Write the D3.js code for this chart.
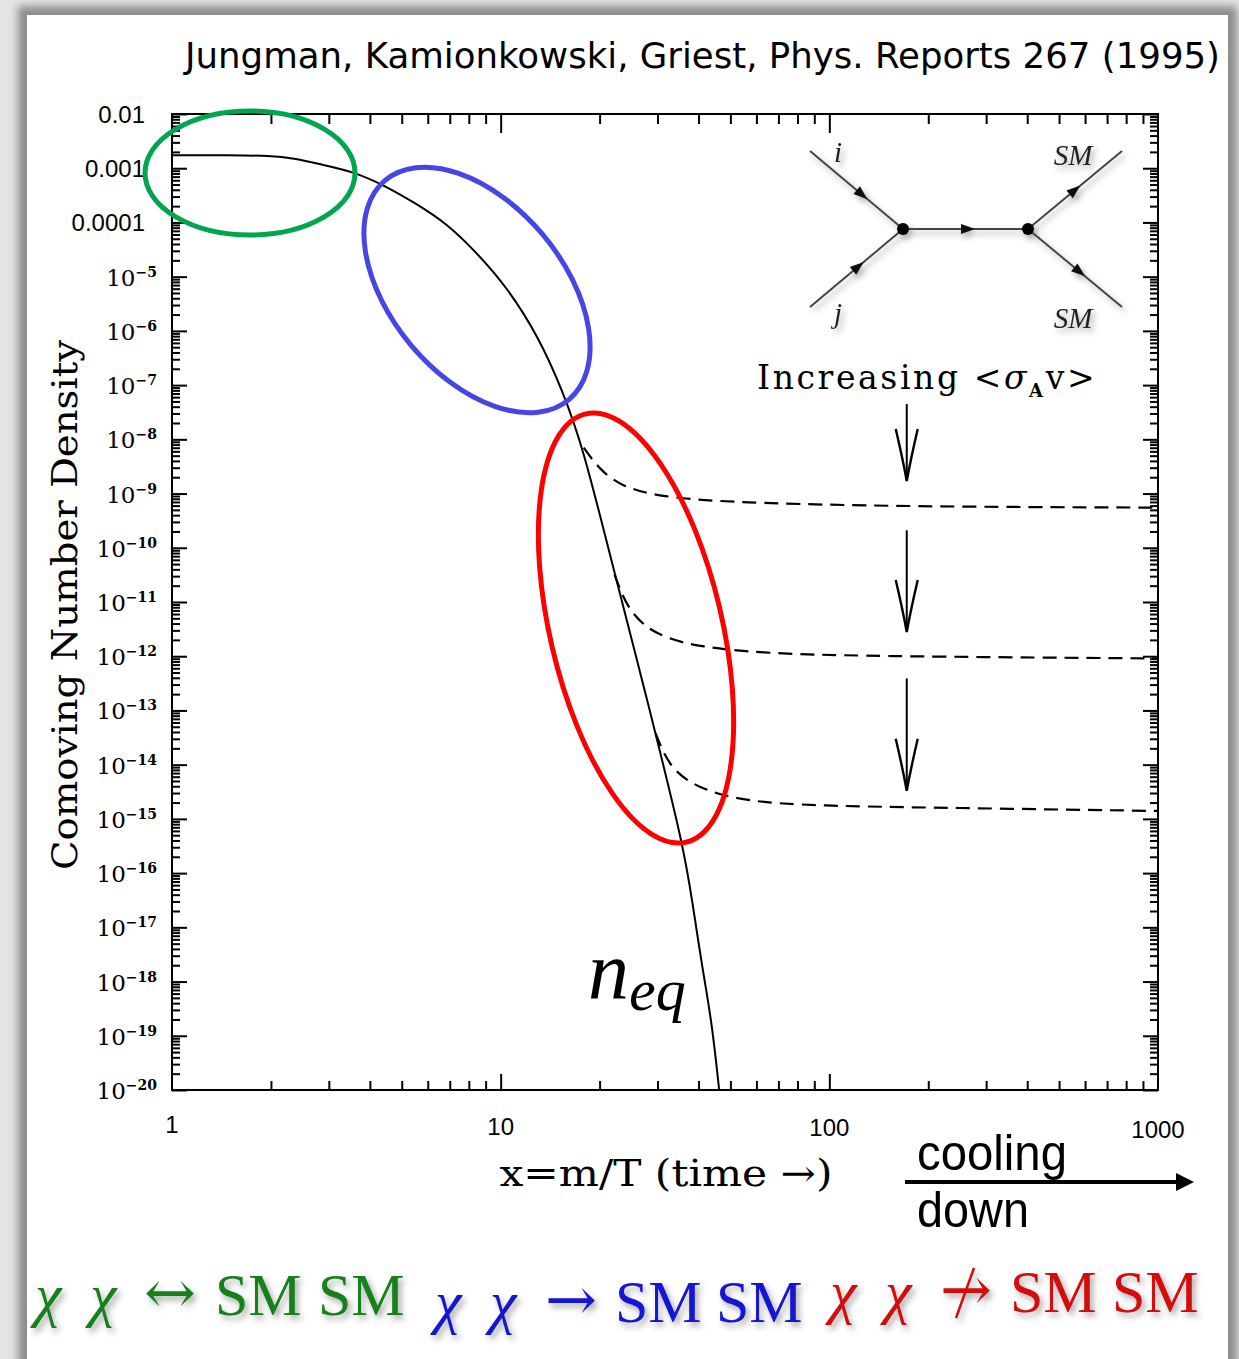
<!DOCTYPE html>
<html>
<head>
<meta charset="utf-8">
<script src="https://cdn.jsdelivr.net/npm/d3@7"></script>
<style>
  body { margin: 0; background: #fff; }
  svg { display: block; }
</style>
</head>
<body>
<svg id="chart" width="1239" height="1359"></svg>
<script>
// ---- data ----
var xTickValues = [1, 10, 100, 1000];
var xTickLabels = ["1", "10", "100", "1000"];
var yTickExponents = [-2, -3, -4, -5, -6, -7, -8, -9, -10, -11, -12, -13, -14, -15, -16, -17, -18, -19, -20];
var yTickPlain = ["0.01", "0.001", "0.0001"];

// equilibrium density n_eq (solid)
var eqX = [1, 1.5, 2.0, 2.33, 2.88, 3.55, 4.38, 5.55, 6.85, 8.22, 10.4, 13.1, 15.4, 17.8, 21.7, 26.1, 30.2, 36.0, 38.3, 41.1, 43.8, 46.3];
var eqY = [1.74e-3, 1.74e-3, 1.70e-3, 1.55e-3, 1.15e-3, 8.7e-4, 5.0e-4, 2.2e-4, 9.5e-5, 3.3e-5, 6.8e-6, 7.4e-7, 8.1e-8, 7.2e-9, 5.9e-11, 7.8e-13, 2.3e-14, 3.0e-16, 3.0e-17, 1.7e-18, 2.0e-19, 9.1e-21];

// freeze-out curves (dashed), increasing <sigma v>
var fo1X = [17.9, 20.0, 23.3, 30.4, 50.7, 167, 1000];
var fo1Y = [7.0e-9, 2.75e-9, 1.35e-9, 8.7e-10, 6.8e-10, 5.75e-10, 5.5e-10];
var fo2X = [22.2, 24.2, 27.4, 32.2, 40.3, 60.4, 123, 1000];
var fo2Y = [3.2e-11, 8.1e-12, 3.5e-12, 2.1e-12, 1.5e-12, 1.15e-12, 1.0e-12, 9.1e-13];
var fo3X = [29.6, 32.6, 39.7, 54.8, 91.9, 225, 1000];
var fo3Y = [3.8e-14, 8.7e-15, 3.7e-15, 2.1e-15, 1.74e-15, 1.6e-15, 1.4e-15];

// "increasing" arrows: x, y start, y end
var arrowX = 172;
var arrowY0 = [4.5e-8, 2.1e-10, 3.9e-13];
var arrowY1 = [1.7e-9, 2.8e-12, 3.3e-15];

var svg = d3.select("#chart");
var defs = svg.append("defs");

defs.append("filter").attr("id", "blur").attr("x", "-5%").attr("y", "-5%").attr("width", "110%").attr("height", "110%")
  .append("feGaussianBlur").attr("stdDeviation", 4);
var sh = defs.append("filter").attr("id", "shadow").attr("x", "-20%").attr("y", "-20%").attr("width", "140%").attr("height", "160%");
sh.append("feDropShadow").attr("dx", 3).attr("dy", 4).attr("stdDeviation", 3).attr("flood-color", "#000").attr("flood-opacity", 0.35);

// frame around the slide
svg.append("rect").attr("width", 1239).attr("height", 1359).attr("fill", "#e4e4e4");
svg.append("rect").attr("x", 18).attr("y", 6).attr("width", 1219).attr("height", 1400).attr("fill", "#8c8c8c").attr("filter", "url(#blur)");
svg.append("rect").attr("x", 27).attr("y", 15).attr("width", 1201).attr("height", 1400).attr("fill", "#fff");

var L = 172, R = 1158, T = 114, B = 1090;
var x = d3.scaleLog().domain([1, 1000]).range([L, R]);
var y = d3.scaleLog().domain([1e-20, 1e-2]).range([B, T]);

defs.append("clipPath").attr("id", "plot").append("rect")
  .attr("x", L).attr("y", T).attr("width", R - L).attr("height", B - T);

// title
svg.append("text").attr("x", 1220).attr("y", 68).attr("text-anchor", "end")
  .attr("font-family", "DejaVu Sans").attr("font-size", 36).attr("textLength", 1035).attr("lengthAdjust", "spacingAndGlyphs")
  .text("Jungman, Kamionkowski, Griest, Phys. Reports 267 (1995)");

// ---- ticks ----
var xMinor = [], yMinor = [];
[1, 10, 100].forEach(function (d) { for (var k = 2; k <= 9; k++) xMinor.push(k * d); });
for (var e = -20; e < -2; e++) { for (var k = 2; k <= 9; k++) yMinor.push(k * Math.pow(10, e)); }
var yMajor = yTickExponents.map(function (e) { return Math.pow(10, e); });

function ticks(axis, tr, vals, size) {
  svg.append("g").attr("transform", tr)
    .call(axis.tickValues(vals).tickSize(size).tickFormat(""))
    .call(function (g) { g.select(".domain").remove(); g.selectAll("line").attr("stroke-width", 2); });
}
ticks(d3.axisBottom(x), "translate(0," + B + ")", xMinor, -9);
ticks(d3.axisBottom(x), "translate(0," + B + ")", [10, 100], -16);
ticks(d3.axisTop(x), "translate(0," + T + ")", xMinor, -10);
ticks(d3.axisTop(x), "translate(0," + T + ")", [10, 100], -19);
ticks(d3.axisLeft(y), "translate(" + L + ",0)", yMinor, -8);
ticks(d3.axisLeft(y), "translate(" + L + ",0)", yMajor, -15);
ticks(d3.axisRight(y), "translate(" + R + ",0)", yMinor, -8);
ticks(d3.axisRight(y), "translate(" + R + ",0)", yMajor, -15);

svg.append("rect").attr("x", L).attr("y", T).attr("width", R - L).attr("height", B - T)
  .attr("fill", "none").attr("stroke", "#000").attr("stroke-width", 2);

// x tick labels
svg.append("g").selectAll("text").data(xTickValues).join("text")
  .attr("x", function (d) { return x(d); })
  .attr("y", function (d, i) { return 1133 + i * 1.5; })
  .attr("text-anchor", "middle")
  .attr("font-family", "Liberation Sans Narrow, Liberation Sans").attr("font-size", 24)
  .text(function (d, i) { return xTickLabels[i]; });

// y tick labels
var yl = svg.append("g").selectAll("text").data(yTickExponents).join("text")
  .attr("y", function (d) { return y(Math.pow(10, d)) + 9; })
  .attr("text-anchor", "end");
yl.filter(function (d, i) { return i < 3; })
  .attr("x", 145).attr("font-family", "Liberation Sans").attr("font-size", 24)
  .text(function (d, i) { return yTickPlain[i]; });
yl.filter(function (d, i) { return i >= 3; })
  .attr("x", 157).attr("font-family", "DejaVu Serif").attr("font-size", 23)
  .each(function (d) {
    var t = d3.select(this);
    t.append("tspan").text("10");
    t.append("tspan").attr("dy", -9).attr("font-size", 14).attr("font-weight", "bold").text("\u2212" + (-d));
  });

// axis titles
svg.append("text").attr("transform", "translate(77,605) rotate(-90)").attr("text-anchor", "middle")
  .attr("font-family", "DejaVu Serif").attr("font-size", 36).attr("textLength", 530).attr("lengthAdjust", "spacingAndGlyphs")
  .text("Comoving Number Density");
svg.append("text").attr("x", 666).attr("y", 1186).attr("text-anchor", "middle")
  .attr("font-family", "DejaVu Serif").attr("font-size", 37).attr("textLength", 333).attr("lengthAdjust", "spacingAndGlyphs")
  .text("x=m/T (time \u2192)");

// ---- curves ----
var line = d3.line().x(function (d) { return x(d[0]); }).y(function (d) { return y(d[1]); }).curve(d3.curveBasis);
var plot = svg.append("g").attr("clip-path", "url(#plot)");
plot.append("path").attr("d", line(d3.zip(eqX, eqY)))
  .attr("fill", "none").attr("stroke", "#000").attr("stroke-width", 2);
[[fo1X, fo1Y], [fo2X, fo2Y], [fo3X, fo3Y]].forEach(function (c) {
  plot.append("path").attr("d", line(d3.zip(c[0], c[1])))
    .attr("fill", "none").attr("stroke", "#000").attr("stroke-width", 2.2).attr("stroke-dasharray", "14,8");
});

// increasing arrows
arrowY0.forEach(function (v, i) {
  var ax = x(arrowX), y0 = y(v), y1 = y(arrowY1[i]);
  var g = svg.append("g").attr("fill", "none").attr("stroke", "#000").attr("stroke-width", 2);
  g.append("line").attr("x1", ax).attr("x2", ax).attr("y1", y0).attr("y2", y1);
  g.append("path").attr("d", "M" + (ax - 11) + "," + (y1 - 52) + " Q" + (ax - 4) + "," + (y1 - 22) + " " + ax + "," + y1 +
    " Q" + (ax + 4) + "," + (y1 - 22) + " " + (ax + 11) + "," + (y1 - 52)).attr("stroke-width", 2.4);
});

svg.append("text").attr("x", 757).attr("y", 389)
  .attr("font-family", "DejaVu Serif").attr("font-size", 33).attr("letter-spacing", 2.6)
  .call(function (t) {
    t.append("tspan").text("Increasing <");
    t.append("tspan").attr("font-style", "italic").text("\u03c3");
    t.append("tspan").attr("dy", 8).attr("font-size", 18).attr("font-weight", "bold").text("A");
    t.append("tspan").attr("dy", -8).text("v>");
  });

// n_eq label
svg.append("text").attr("x", 588).attr("y", 998)
  .attr("font-family", "Liberation Serif").attr("font-style", "italic").attr("font-size", 82)
  .call(function (t) {
    t.append("tspan").text("n");
    t.append("tspan").attr("dy", 12).attr("font-size", 60).text("eq");
  });

// ---- Feynman diagram inset ----
var fd = svg.append("g").attr("filter", "url(#shadow)");
var vL = [903, 229], vR = [1028, 229];
var legs = [
  { a: [810, 151], b: vL, t: 0.56 },
  { a: [810, 307], b: vL, t: 0.52 },
  { a: vL, b: vR, t: 0.52 },
  { a: vR, b: [1122, 151], t: 0.5 },
  { a: vR, b: [1122, 307], t: 0.55 }
];
legs.forEach(function (l) {
  fd.append("line").attr("x1", l.a[0]).attr("y1", l.a[1]).attr("x2", l.b[0]).attr("y2", l.b[1])
    .attr("stroke", "#444").attr("stroke-width", 2);
  var px = l.a[0] + (l.b[0] - l.a[0]) * l.t, py = l.a[1] + (l.b[1] - l.a[1]) * l.t;
  var ang = Math.atan2(l.b[1] - l.a[1], l.b[0] - l.a[0]) * 180 / Math.PI;
  fd.append("path").attr("d", "M7,0 L-7,-5 L-7,5 Z").attr("fill", "#111")
    .attr("transform", "translate(" + px + "," + py + ") rotate(" + ang + ")");
});
[vL, vR].forEach(function (v) {
  fd.append("circle").attr("cx", v[0]).attr("cy", v[1]).attr("r", 6).attr("fill", "#000");
});
var fl = fd.append("g").attr("font-family", "Liberation Serif").attr("font-style", "italic").attr("font-size", 29).attr("fill", "#222");
fl.append("text").attr("x", 838).attr("y", 162).attr("text-anchor", "middle").text("i");
fl.append("text").attr("x", 838).attr("y", 323).attr("text-anchor", "middle").text("j");
fl.append("text").attr("x", 1073).attr("y", 165).attr("text-anchor", "middle").text("SM");
fl.append("text").attr("x", 1073).attr("y", 328).attr("text-anchor", "middle").text("SM");

// ---- highlight ellipses ----
svg.append("ellipse").attr("cx", 250).attr("cy", 173).attr("rx", 105).attr("ry", 62)
  .attr("fill", "none").attr("stroke", "#00a550").attr("stroke-width", 5);
svg.append("ellipse").attr("transform", "translate(477,290) rotate(50)").attr("rx", 143).attr("ry", 86)
  .attr("fill", "none").attr("stroke", "#4646e6").attr("stroke-width", 5);
svg.append("ellipse").attr("transform", "translate(636,628) rotate(76.8)").attr("rx", 220).attr("ry", 86)
  .attr("fill", "none").attr("stroke", "#ff0000").attr("stroke-width", 5);

// ---- cooling down ----
var cd = svg.append("g").attr("font-family", "Liberation Sans Narrow, Liberation Sans").attr("font-size", 50);
cd.append("text").attr("x", 917).attr("y", 1170).attr("textLength", 150).attr("lengthAdjust", "spacingAndGlyphs").text("cooling");
cd.append("text").attr("x", 917).attr("y", 1227).attr("textLength", 112).attr("lengthAdjust", "spacingAndGlyphs").text("down");
svg.append("line").attr("x1", 905).attr("x2", 1178).attr("y1", 1182).attr("y2", 1182).attr("stroke", "#000").attr("stroke-width", 4);
svg.append("path").attr("d", "M1194,1182 L1176,1173 L1176,1191 Z").attr("fill", "#000");

// ---- processes ----
var procs = [
  { color: "#17801a", base: 1315, arrow: "\u2194", parts: [["\u03c7", 35], ["\u03c7", 90], ["SM", 215], ["SM", 318]], ax: 144, crossed: false },
  { color: "#1414d2", base: 1322, arrow: "\u2192", parts: [["\u03c7", 435], ["\u03c7", 490], ["SM", 615], ["SM", 716]], ax: 545, crossed: false },
  { color: "#d20a0a", base: 1312, arrow: "\u2192", parts: [["\u03c7", 830], ["\u03c7", 885], ["SM", 1010], ["SM", 1112]], ax: 940, crossed: true }
];
procs.forEach(function (p) {
  var g = svg.append("g").attr("filter", "url(#shadow)").attr("fill", p.color)
    .attr("font-family", "Liberation Serif").attr("font-size", 60);
  p.parts.forEach(function (q) {
    g.append("text").attr("x", q[1]).attr("y", p.base)
      .attr("font-style", q[0] === "SM" ? "normal" : "italic").text(q[0]);
  });
  g.append("text").attr("x", p.ax).attr("y", p.base - 2)
    .attr("font-family", "DejaVu Serif").attr("font-size", 60).attr("textLength", 52).attr("lengthAdjust", "spacingAndGlyphs")
    .text(p.arrow);
  if (p.crossed) {
    g.append("line").attr("x1", p.ax + 16).attr("y1", p.base + 6).attr("x2", p.ax + 34).attr("y2", p.base - 44)
      .attr("stroke", p.color).attr("stroke-width", 2.5);
  }
});
</script>
</body>
</html>
